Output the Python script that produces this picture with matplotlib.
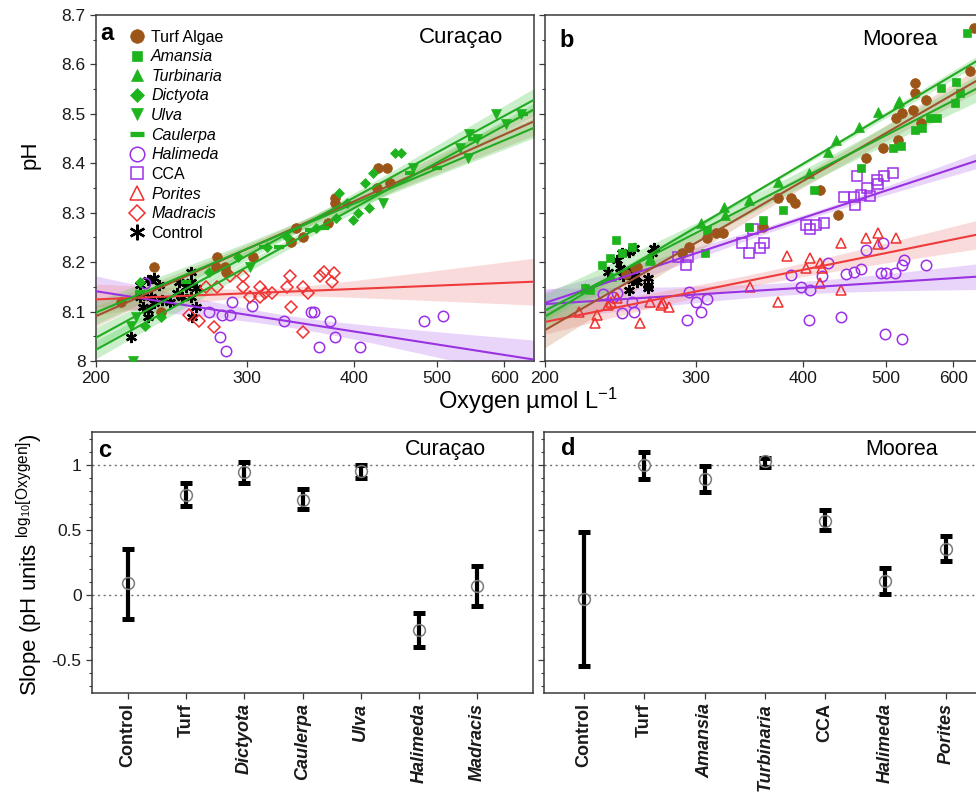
import numpy as np
import matplotlib
matplotlib.use('Agg')
import matplotlib.pyplot as plt
from matplotlib.lines import Line2D
from matplotlib.ticker import MultipleLocator, FixedLocator, NullLocator, FuncFormatter, NullFormatter

plt.rcParams['font.family'] = ['Liberation Sans', 'DejaVu Sans']
plt.rcParams['mathtext.fontset'] = 'custom'
plt.rcParams['mathtext.rm'] = 'Liberation Sans'
plt.rcParams['mathtext.it'] = 'Liberation Sans:italic'
plt.rcParams['mathtext.bf'] = 'Liberation Sans:bold'

# ---------------- data: Curacao scatter (O2 umol/L, pH) ----------------
cur_turf_o2 = [234, 214, 238, 277, 276, 283, 284, 305, 338, 343, 349, 373, 380, 380, 427, 438, 441, 426]
cur_turf_ph = [8.19, 8.12, 8.10, 8.21, 8.19, 8.19, 8.18, 8.21, 8.24, 8.27, 8.25, 8.28, 8.33, 8.32, 8.39, 8.39, 8.36, 8.35]
cur_dict_o2 = [225, 238, 228, 271, 293, 317, 334, 362, 382, 385, 393, 399, 405, 413, 417, 422, 447, 455]
cur_dict_ph = [8.16, 8.09, 8.07, 8.18, 8.21, 8.23, 8.25, 8.27, 8.29, 8.34, 8.32, 8.285, 8.30, 8.36, 8.31, 8.38, 8.42, 8.42]
cur_ulva_o2 = [221, 220, 223, 303, 433, 469, 532, 544, 546, 558, 587, 603, 628]
cur_ulva_ph = [8.00, 8.07, 8.09, 8.19, 8.32, 8.39, 8.43, 8.41, 8.46, 8.45, 8.50, 8.48, 8.50]
cur_caul_o2 = [225, 255, 314, 327, 356, 369, 465, 500, 551, 631]
cur_caul_ph = [8.14, 8.16, 8.23, 8.23, 8.265, 8.27, 8.38, 8.39, 8.45, 8.50]
cur_hal_o2 = [228, 271, 281, 287, 288, 304, 279, 284, 332, 357, 360, 375, 380, 364, 407, 484, 509]
cur_hal_ph = [8.157, 8.10, 8.093, 8.093, 8.12, 8.111, 8.049, 8.021, 8.08, 8.10, 8.10, 8.08, 8.049, 8.029, 8.029, 8.08, 8.091]
cur_mad_o2 = [257, 264, 275, 269, 277, 287, 297, 297, 303, 311, 311, 315, 321, 337, 334, 338, 349, 354, 365, 369, 377, 379, 349]
cur_mad_ph = [8.093, 8.080, 8.069, 8.150, 8.150, 8.171, 8.171, 8.150, 8.130, 8.150, 8.130, 8.137, 8.138, 8.171, 8.150,
              8.110, 8.150, 8.138, 8.171, 8.181, 8.160, 8.179, 8.059]
cur_ctrl_o2 = [225, 230, 234, 237, 225, 227, 230, 234, 232, 239, 230, 244, 250, 255, 258, 258, 262, 258, 252, 262, 259, 249, 220]
cur_ctrl_ph = [8.154, 8.164, 8.167, 8.154, 8.130, 8.110, 8.103, 8.117, 8.130, 8.123, 8.09, 8.12, 8.160, 8.150, 8.181,
               8.16, 8.147, 8.130, 8.130, 8.110, 8.09, 8.137, 8.049]

# ---------------- data: Moorea scatter ----------------
moo_turf_o2 = [255, 249, 256, 289, 295, 309, 317, 323, 360, 374, 388, 392, 419, 440, 475, 497, 517, 515, 522, 538, 541,
               541, 558, 550, 627, 635]
moo_turf_ph = [8.188, 8.177, 8.191, 8.218, 8.231, 8.248, 8.258, 8.258, 8.272, 8.329, 8.329, 8.320, 8.346, 8.295, 8.410,
               8.430, 8.447, 8.491, 8.501, 8.508, 8.542, 8.562, 8.528, 8.481, 8.586, 8.674]
moo_aman_o2 = [242, 233, 238, 246, 253, 223, 226, 309, 308, 346, 360, 379, 413, 468, 510, 521, 542, 551, 563, 574, 581,
               605, 603, 611, 623]
moo_aman_ph = [8.245, 8.194, 8.208, 8.218, 8.231, 8.147, 8.144, 8.265, 8.218, 8.272, 8.285, 8.305, 8.346, 8.390, 8.430,
               8.434, 8.467, 8.471, 8.491, 8.491, 8.552, 8.565, 8.521, 8.542, 8.663]
moo_turb_o2 = [223, 239, 265, 265, 304, 324, 325, 346, 374, 407, 428, 438, 466, 490, 517, 519]
moo_turb_ph = [8.147, 8.171, 8.208, 8.204, 8.279, 8.312, 8.295, 8.326, 8.363, 8.380, 8.423, 8.447, 8.474, 8.504, 8.521, 8.527]
moo_cca_o2 = [286, 294, 292, 340, 346, 357, 361, 350, 404, 408, 415, 424, 447, 459, 460, 468, 476, 479, 463, 489, 490, 498, 510]
moo_cca_ph = [8.211, 8.210, 8.194, 8.238, 8.218, 8.228, 8.238, 8.268, 8.275, 8.268, 8.275, 8.280, 8.332, 8.332, 8.316,
              8.336, 8.349, 8.334, 8.374, 8.367, 8.358, 8.374, 8.380]
moo_hal_o2 = [234, 240, 243, 246, 253, 254, 295, 300, 304, 309, 293, 388, 398, 408, 407, 422, 428, 443, 449, 459, 468, 474,
              494, 500, 497, 513, 522, 525, 558, 499, 522]
moo_hal_ph = [8.136, 8.130, 8.137, 8.097, 8.120, 8.100, 8.140, 8.120, 8.100, 8.125, 8.083, 8.174, 8.149, 8.144, 8.083,
              8.171, 8.199, 8.090, 8.175, 8.181, 8.186, 8.225, 8.179, 8.179, 8.239, 8.179, 8.194, 8.204, 8.194, 8.054, 8.044]
moo_por_o2 = [219, 230, 229, 237, 239, 243, 258, 265, 273, 275, 279, 347, 374, 384, 404, 408, 419, 422, 419, 444, 444, 474,
              490, 490, 515]
moo_por_ph = [8.100, 8.093, 8.076, 8.113, 8.120, 8.127, 8.077, 8.120, 8.113, 8.118, 8.110, 8.149, 8.120, 8.212, 8.188,
              8.208, 8.198, 8.188, 8.158, 8.144, 8.238, 8.248, 8.258, 8.237, 8.248]
moo_ctrl_o2 = [237, 243, 246, 251, 254, 245, 252, 253, 256, 251, 255, 264, 264, 264, 268, 267, 247]
moo_ctrl_ph = [8.181, 8.204, 8.218, 8.221, 8.228, 8.188, 8.184, 8.164, 8.160, 8.144, 8.172, 8.167, 8.154, 8.147, 8.228,
               8.218, 8.171]

# ---------------- data: slopes (pH units per log10[O2]) with 95% CI ----------------
cur_cats = ['Control', 'Turf', 'Dictyota', 'Caulerpa', 'Ulva', 'Halimeda', 'Madracis']
cur_slope = [0.09, 0.77, 0.94, 0.73, 0.95, -0.27, 0.07]
cur_lo = [-0.18, 0.68, 0.86, 0.66, 0.90, -0.40, -0.08]
cur_hi = [0.35, 0.86, 1.02, 0.81, 1.00, -0.14, 0.22]

moo_cats = ['Control', 'Turf', 'Amansia', 'Turbinaria', 'CCA', 'Halimeda', 'Porites']
moo_slope = [-0.03, 1.00, 0.89, 1.025, 0.57, 0.11, 0.35]
moo_lo = [-0.54, 0.89, 0.79, 0.98, 0.50, 0.005, 0.26]
moo_hi = [0.48, 1.10, 0.99, 1.05, 0.65, 0.21, 0.45]

x_ticks = [200, 300, 400, 500, 600]
italic_names = {'Amansia', 'Turbinaria', 'Dictyota', 'Ulva', 'Caulerpa', 'Halimeda', 'Porites', 'Madracis'}

# ---------------- styles ----------------
brown = '#9C5518'
green = '#1EB41E'
purple = '#9B30E8'
red = '#F0302E'

style = {
    'Turf Algae': dict(marker='o', ms=7, mfc=brown, mec=brown, mew=0.5),
    'Amansia': dict(marker='s', ms=5.5, mfc=green, mec=green, mew=0.5),
    'Turbinaria': dict(marker='^', ms=6.5, mfc=green, mec=green, mew=0.5),
    'Dictyota': dict(marker='D', ms=5, mfc=green, mec=green, mew=0.5),
    'Ulva': dict(marker='v', ms=6.5, mfc=green, mec=green, mew=0.5),
    'Caulerpa': dict(marker='_', ms=7, mec=green, mew=3),
    'Halimeda': dict(marker='o', ms=7.5, mfc='none', mec=purple, mew=1.1),
    'CCA': dict(marker='s', ms=6.5, mfc='none', mec=purple, mew=1.1),
    'Porites': dict(marker='^', ms=7.5, mfc='none', mec=red, mew=1.1),
    'Madracis': dict(marker='D', ms=6, mfc='none', mec=red, mew=1.1),
    'Control': dict(marker=(6, 2, 0), ms=8, mec='black', mew=1.7),
}
fitcol = {
    'Turf Algae': ('#A0522D', '#C8956A'),
    'Amansia': ('#22AA22', '#5FD05F'), 'Turbinaria': ('#22AA22', '#5FD05F'),
    'Dictyota': ('#22AA22', '#5FD05F'), 'Ulva': ('#22AA22', '#5FD05F'), 'Caulerpa': ('#22AA22', '#5FD05F'),
    'Halimeda': ('#9932E0', '#C07EF0'), 'CCA': ('#9932E0', '#C07EF0'),
    'Porites': ('#EE3B3B', '#F29090'), 'Madracis': ('#EE3B3B', '#F29090'),
}
slope_key = {'Turf Algae': 'Turf'}

cur_species = [('Control', cur_ctrl_o2, cur_ctrl_ph), ('Halimeda', cur_hal_o2, cur_hal_ph),
               ('Madracis', cur_mad_o2, cur_mad_ph), ('Turf Algae', cur_turf_o2, cur_turf_ph),
               ('Caulerpa', cur_caul_o2, cur_caul_ph), ('Dictyota', cur_dict_o2, cur_dict_ph),
               ('Ulva', cur_ulva_o2, cur_ulva_ph)]
moo_species = [('Control', moo_ctrl_o2, moo_ctrl_ph), ('Halimeda', moo_hal_o2, moo_hal_ph),
               ('Porites', moo_por_o2, moo_por_ph), ('CCA', moo_cca_o2, moo_cca_ph),
               ('Turf Algae', moo_turf_o2, moo_turf_ph), ('Amansia', moo_aman_o2, moo_aman_ph),
               ('Turbinaria', moo_turb_o2, moo_turb_ph)]

# ---------------- figure ----------------
W, H = 976, 794
fig = plt.figure(figsize=(W / 100, H / 100), dpi=100)


def ax_at(l, t, w, h):
    return fig.add_axes([l / W, 1 - (t + h) / H, w / W, h / H])


axA = ax_at(96, 15, 438, 346)
axB = ax_at(545, 15, 438, 346)
axC = ax_at(92, 432, 441, 261)
axD = ax_at(544, 432, 441, 261)

spine_col = '#3a3a3a'


def style_axes(ax):
    for s in ax.spines.values():
        s.set_color(spine_col)
        s.set_linewidth(1.1)
    ax.tick_params(which='both', direction='out', color=spine_col, labelcolor='#1a1a1a')
    ax.tick_params(which='major', length=4, width=0.9)
    ax.tick_params(which='minor', length=2.5, width=0.8)


def scatter_panel(ax, species, cats, slopes, los, his, label_y=True):
    xg = np.geomspace(200, 660, 120)
    lg = np.log10(xg)
    for name, o2, ph in species:
        st = style[name]
        ax.plot(o2, ph, ls='none', zorder=3, **st)
    for name, o2, ph in species:
        key = slope_key.get(name, name)
        if name == 'Control' or key not in cats:
            continue
        i = cats.index(key)
        lx = np.log10(np.asarray(o2, float))
        y = np.asarray(ph, float)
        mx, my = lx.mean(), y.mean()
        sxx_n = np.mean((lx - mx) ** 2)
        half = (his[i] - los[i]) / 2.0
        yhat = my + slopes[i] * (lg - mx)
        hw = half * np.sqrt(sxx_n + (lg - mx) ** 2)
        lc, bc = fitcol[name]
        ax.fill_between(xg, yhat - hw, yhat + hw, color=bc, alpha=0.32, lw=0, zorder=1)
        ax.plot(xg, yhat, color=lc, lw=1.5, zorder=4)
    ax.set_xscale('log')
    ax.set_xlim(200, 650)
    ax.set_ylim(8.0, 8.7)
    ax.xaxis.set_major_locator(FixedLocator(x_ticks))
    ax.xaxis.set_minor_locator(NullLocator())
    ax.xaxis.set_major_formatter(FuncFormatter(lambda v, p: f'{v:.0f}'))
    ax.xaxis.set_minor_formatter(NullFormatter())
    ax.yaxis.set_major_locator(MultipleLocator(0.1))
    ax.yaxis.set_minor_locator(MultipleLocator(0.05))
    if label_y:
        ax.yaxis.set_major_formatter(FuncFormatter(lambda v, p: f'{round(v, 2):g}'))
    else:
        ax.yaxis.set_major_formatter(NullFormatter())
    style_axes(ax)
    ax.tick_params(labelsize=12.5)


scatter_panel(axA, cur_species, cur_cats, cur_slope, cur_lo, cur_hi, True)
scatter_panel(axB, moo_species, moo_cats, moo_slope, moo_lo, moo_hi, False)

# legend in panel a
leg_order = ['Turf Algae', 'Amansia', 'Turbinaria', 'Dictyota', 'Ulva', 'Caulerpa', 'Halimeda', 'CCA', 'Porites',
             'Madracis', 'Control']
handles = []
for nm in leg_order:
    st = dict(style[nm])
    st['ms'] = st['ms'] * 1.4
    if nm == 'Caulerpa':
        st['ms'] = 10
        st['mew'] = 3.8
    handles.append(Line2D([], [], ls='none', **st))
leg = axA.legend(handles, leg_order, loc='upper left', bbox_to_anchor=(0.075, 0.958), frameon=False,
                 fontsize=11.5, handlelength=1.0, handletextpad=0.4, labelspacing=0.29, borderpad=0,
                 borderaxespad=0)
for t in leg.get_texts():
    if t.get_text() in italic_names:
        t.set_fontstyle('italic')

axA.text(0.009, 0.928, 'a', transform=axA.transAxes, fontsize=17, fontweight='bold', va='baseline')
axB.text(0.032, 0.908, 'b', transform=axB.transAxes, fontsize=17, fontweight='bold', va='baseline')
axA.text(0.929, 0.919, 'Curaçao', transform=axA.transAxes, fontsize=16, ha='right', va='baseline')
axB.text(0.895, 0.913, 'Moorea', transform=axB.transAxes, fontsize=16, ha='right', va='baseline')


def slope_panel(ax, cats, slopes, los, his, xlim, label_y=True):
    pos = np.arange(1, len(cats) + 1)
    s = np.asarray(slopes)
    yerr = [s - np.asarray(los), np.asarray(his) - s]
    ax.axhline(1, ls=(0, (1.5, 2.5)), color='#707070', lw=1, zorder=1)
    ax.axhline(0, ls=(0, (1.5, 2.5)), color='#707070', lw=1, zorder=1)
    ax.errorbar(pos, s, yerr=yerr, fmt='none', ecolor='black', elinewidth=3, capsize=4.2, capthick=3.6, zorder=2)
    ax.plot(pos, s, ls='none', marker='o', ms=8.5, mfc='none', mec='#7a7a7a', mew=1.1, zorder=3)
    ax.set_xlim(*xlim)
    ax.set_ylim(-0.75, 1.25)
    ax.set_xticks(pos)
    ax.set_xticklabels(cats, rotation=90, fontweight='bold', fontsize=13)
    for t in ax.get_xticklabels():
        if t.get_text() in italic_names:
            t.set_fontstyle('italic')
    ax.yaxis.set_major_locator(FixedLocator([-0.5, 0, 0.5, 1]))
    ax.yaxis.set_minor_locator(MultipleLocator(0.1))
    if label_y:
        ax.yaxis.set_major_formatter(FuncFormatter(lambda v, p: f'{v:g}'))
    else:
        ax.yaxis.set_major_formatter(NullFormatter())
    style_axes(ax)
    ax.tick_params(axis='y', labelsize=12.5)


slope_panel(axC, cur_cats, cur_slope, cur_lo, cur_hi, (0.38, 7.96), True)
slope_panel(axD, moo_cats, moo_slope, moo_lo, moo_hi, (0.337, 7.65), False)

axC.text(0.014, 0.904, 'c', transform=axC.transAxes, fontsize=17, fontweight='bold', va='baseline')
axD.text(0.039, 0.912, 'd', transform=axD.transAxes, fontsize=17, fontweight='bold', va='baseline')
axC.text(0.893, 0.912, 'Curaçao', transform=axC.transAxes, fontsize=15.5, ha='right', va='baseline')
axD.text(0.893, 0.912, 'Moorea', transform=axD.transAxes, fontsize=15.5, ha='right', va='baseline')

# axis titles
fig.text(30 / W, 1 - 155 / H, 'pH', rotation=90, ha='center', va='center', fontsize=16)
fig.text(528 / W, 1 - 401 / H, r'Oxygen µmol L$^{\mathregular{-1}}$', ha='center', va='center', fontsize=17)
fig.text(30 / W, 1 - 565 / H, r'Slope (pH units $^{\mathregular{log_{10}[Oxygen]}}$)', rotation=90,
         ha='center', va='center', fontsize=16)

fig.savefig('out.png', dpi=100)
